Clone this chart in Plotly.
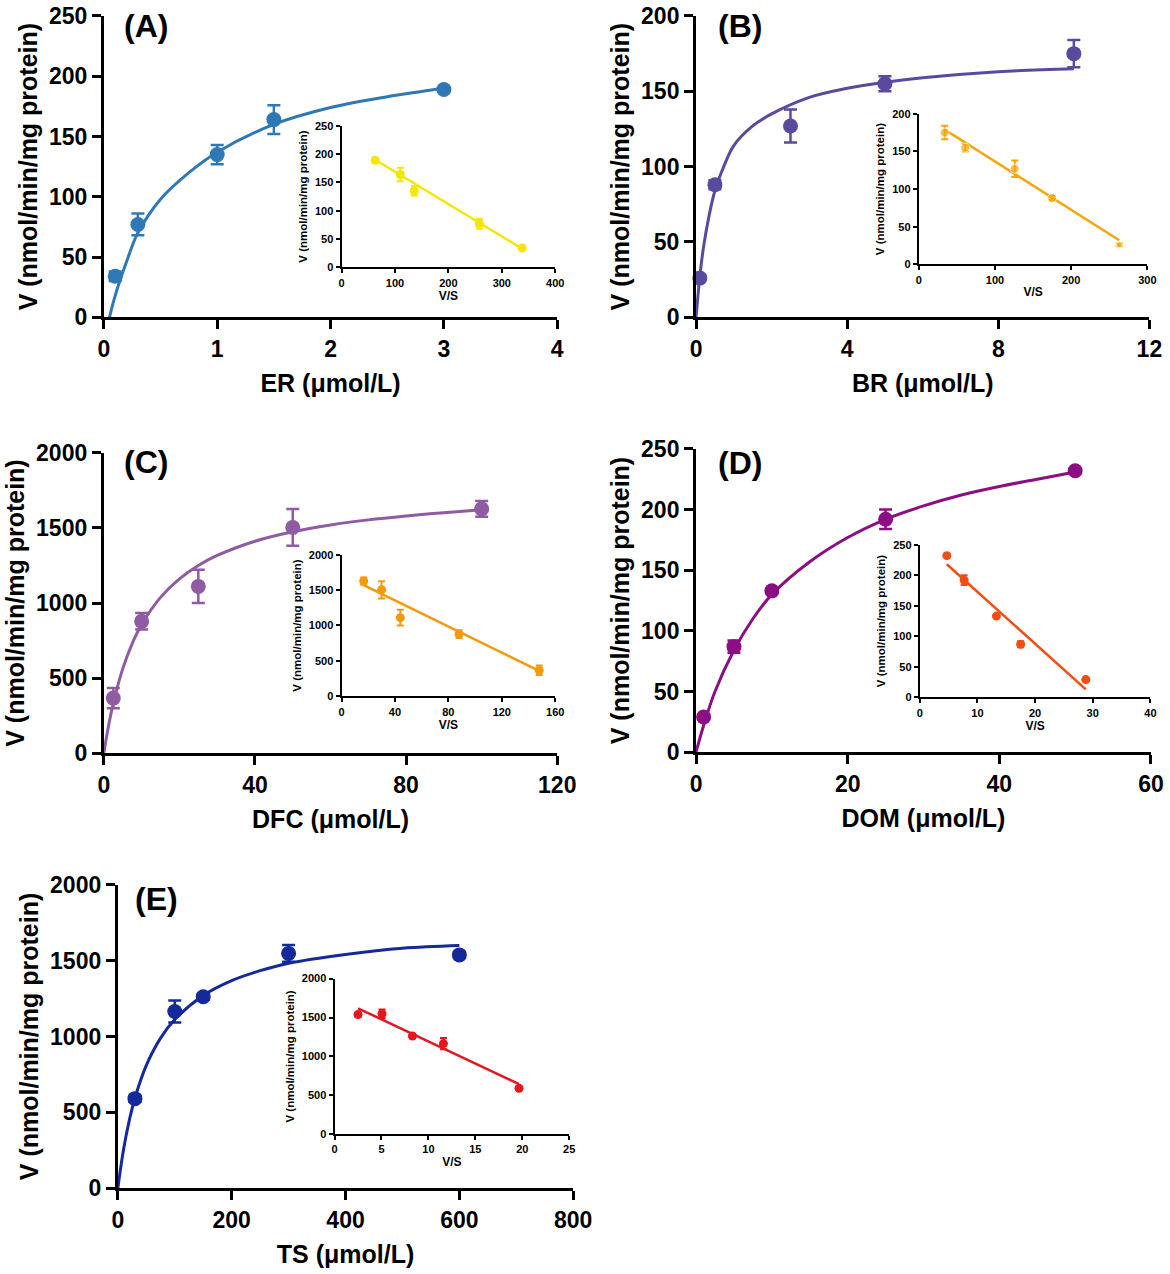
import plotly.graph_objects as go

W, H = 1170, 1274
FONT = "Arial, Liberation Sans, sans-serif"

# ---- (A) ER ----
A_S = [0.1, 0.3, 1, 1.5, 3]
A_V = [34, 77, 135, 164, 189]
A_err = [4, 9, 8, 12, 2]
A_fit_S = [0.05, 0.1, 0.2, 0.3, 0.5, 0.75, 1.0, 1.5, 2.0, 2.5, 3.0]
A_fit_V = [0, 18, 46, 70, 98, 120, 137, 160, 174, 183, 190]
A_VS = [338, 258, 136, 110, 63]
A_line_x = [63, 338]
A_line_y = [190, 33]

# ---- (B) BR ----
B_S = [0.1, 0.5, 2.5, 5, 10]
B_V = [26, 88, 127, 155, 175]
B_err = [2, 3, 11, 5, 9]
B_fit_S = [0, 0.05, 0.1, 0.2, 0.35, 0.5, 0.75, 1, 1.5, 2, 3, 4, 5, 6, 8, 10]
B_fit_V = [0, 14, 27, 47, 68, 84, 101, 114, 127, 135, 146, 152, 156, 159, 163, 165]
B_VS = [263, 175, 126, 61, 34]
B_line_x = [34, 263]
B_line_y = [179, 32]

# ---- (C) DFC ----
C_S = [2.5, 10, 25, 50, 100]
C_V = [367, 878, 1111, 1504, 1627]
C_err = [67, 55, 110, 122, 52]
C_fit_S = [0, 1, 2.5, 5, 7.5, 10, 15, 20, 25, 30, 40, 50, 60, 70, 80, 90, 100]
C_fit_V = [0, 150, 333, 563, 730, 857, 1038, 1161, 1250, 1317, 1412, 1475, 1520, 1554, 1580, 1602, 1621]
C_VS = [148, 88, 44, 30, 16.6]
C_line_x = [16.6, 148]
C_line_y = [1569, 360]

# ---- (D) DOM ----
D_S = [1, 5, 10, 25, 50]
D_V = [29, 87, 133, 192, 232]
D_err = [2, 5, 2, 8, 2]
D_fit_S = [0, 1, 2.5, 5, 7.5, 10, 15, 20, 25, 30, 35, 40, 45, 50]
D_fit_V = [0, 22, 50, 84, 110, 130, 157, 177, 192, 203, 212, 219, 225, 231]
D_VS = [28.8, 17.5, 13.3, 7.7, 4.7]
D_line_x = [4.7, 28.8]
D_line_y = [218, 13]

# ---- (E) TS ----
E_S = [30, 100, 150, 300, 600]
E_V = [590, 1165, 1262, 1548, 1538]
E_err = [20, 73, 20, 55, 20]
E_fit_S = [0, 10, 20, 30, 50, 75, 100, 150, 200, 250, 300, 400, 500, 600]
E_fit_V = [0, 254, 445, 593, 809, 989, 1112, 1271, 1369, 1434, 1483, 1541, 1582, 1600]
E_VS = [19.65, 11.6, 8.3, 5.06, 2.5]
E_line_x = [2.5, 19.65]
E_line_y = [1619, 644]

YTITLE = "V (nmol/min/mg protein)"

# the photographed page comes out slightly shrunk; these undo it
SX, OX = 0.98, 5
SY, OY = 0.982, 12

fig = go.Figure()


def ref(kind, i):
    return kind if i == 1 else f"{kind}{i}"


def px_x(a):
    return min(1.0, max(0.0, (a - OX) / SX / W))


def px_y(a):
    return min(1.0, max(0.0, 1 - (a - OY) / SY / H))


def dom_x(a, b):
    return [px_x(a), px_x(b)]


def dom_y(top, bottom):
    return [px_y(bottom), px_y(top)]


def add_axes(i, xd, yd, xr, xdt, yr, ydt, xtitle, ytitle, inset=False):
    lw = 2 if inset else 3
    tl = 4 if inset else 9
    tf = dict(family=FONT, size=11 if inset else 23, color="black", weight="bold")
    titf = dict(family=FONT, size=11.5 if inset else 25, color="black", weight="bold")
    xtf = dict(family=FONT, size=12 if inset else 25, color="black", weight="bold")
    common = dict(showline=True, linecolor="black", linewidth=lw, ticks="outside",
                  ticklen=tl, tickwidth=lw, tickcolor="black", tickfont=tf,
                  showgrid=False, zeroline=False, fixedrange=True)
    fig.layout[ref("xaxis", i)] = dict(
        domain=xd, range=xr, dtick=xdt, tick0=0, anchor=ref("y", i),
        title=dict(text=xtitle, font=xtf, standoff=3 if inset else 14), **common)
    fig.layout[ref("yaxis", i)] = dict(
        domain=yd, range=yr, dtick=ydt, tick0=0, anchor=ref("x", i),
        title=dict(text=ytitle, font=titf, standoff=5 if inset else 5), **common)


def add_main(i, S, V, err, fitS, fitV, color):
    fig.add_trace(go.Scatter(x=fitS, y=fitV, mode="lines", showlegend=False,
                             line=dict(color=color, width=3, shape="spline", smoothing=1),
                             xaxis=ref("x", i), yaxis=ref("y", i)))
    fig.add_trace(go.Scatter(x=S, y=V, mode="markers", showlegend=False, cliponaxis=False,
                             marker=dict(color=color, size=15),
                             error_y=dict(type="data", array=err, color=color,
                                          thickness=2.5, width=6.5),
                             xaxis=ref("x", i), yaxis=ref("y", i)))


def add_inset(i, VS, V, err, lx, ly, color, sizes=9):
    fig.add_trace(go.Scatter(x=lx, y=ly, mode="lines", showlegend=False,
                             line=dict(color=color, width=2.5),
                             xaxis=ref("x", i), yaxis=ref("y", i)))
    fig.add_trace(go.Scatter(x=VS, y=V, mode="markers", showlegend=False, cliponaxis=False,
                             marker=dict(color=color, size=sizes),
                             error_y=dict(type="data", array=err, color=color,
                                          thickness=2, width=3.5),
                             xaxis=ref("x", i), yaxis=ref("y", i)))


# (A)
add_axes(1, dom_x(103, 557), dom_y(15, 317), [0, 4], 1, [0, 250], 50, "ER (μmol/L)", YTITLE)
add_main(1, A_S, A_V, A_err, A_fit_S, A_fit_V, "#2f78b6")
add_axes(2, dom_x(341, 555), dom_y(125, 267), [0, 400], 100, [0, 250], 50, "V/S", YTITLE, inset=True)
add_inset(2, A_VS, A_V, A_err, A_line_x, A_line_y, "#f5e600")

# (B)
add_axes(3, dom_x(696, 1150), dom_y(15, 317), [0, 12], 4, [0, 200], 50, "BR (μmol/L)", YTITLE)
add_main(3, B_S, B_V, B_err, B_fit_S, B_fit_V, "#5a4a9e")
add_axes(4, dom_x(919, 1148), dom_y(113, 264), [0, 300], 100, [0, 200], 50, "V/S", YTITLE, inset=True)
add_inset(4, B_VS, B_V, B_err, B_line_x, B_line_y, "#f6a60a", sizes=[6, 9, 9, 9, 9])

# (C)
add_axes(5, dom_x(103, 557), dom_y(453, 754), [0, 120], 40, [0, 2000], 500, "DFC (μmol/L)", YTITLE)
add_main(5, C_S, C_V, C_err, C_fit_S, C_fit_V, "#8f5ba3")
add_axes(6, dom_x(341, 555), dom_y(555, 697), [0, 160], 40, [0, 2000], 500, "V/S", YTITLE, inset=True)
add_inset(6, C_VS, C_V, C_err, C_line_x, C_line_y, "#f39a0c")

# (D)
add_axes(7, dom_x(696, 1152), dom_y(449, 753), [0, 60], 20, [0, 250], 50, "DOM (μmol/L)", YTITLE)
add_main(7, D_S, D_V, D_err, D_fit_S, D_fit_V, "#8b0e82")
add_axes(8, dom_x(920, 1151), dom_y(545, 698), [0, 40], 10, [0, 250], 50, "V/S", YTITLE, inset=True)
add_inset(8, D_VS, D_V, D_err, D_line_x, D_line_y, "#f04e12")

# (E)
add_axes(9, dom_x(117, 573), dom_y(886, 1190), [0, 800], 200, [0, 2000], 500, "TS (μmol/L)", YTITLE)
add_main(9, E_S, E_V, E_err, E_fit_S, E_fit_V, "#14299a")
add_axes(10, dom_x(334, 569), dom_y(980, 1136), [0, 25], 5, [0, 2000], 500, "V/S", YTITLE, inset=True)
add_inset(10, E_VS, E_V, E_err, E_line_x, E_line_y, "#e5161d")

# panel letters
for label, px, py in [("(A)", 145, 25), ("(B)", 740, 25), ("(C)", 145, 462),
                      ("(D)", 740, 463), ("(E)", 156, 900)]:
    fig.add_annotation(text=label, x=px_x(px), y=px_y(py), xref="paper", yref="paper",
                       showarrow=False, xanchor="center", yanchor="middle",
                       font=dict(family=FONT, size=32, color="black", weight="bold"))

fig.update_layout(width=W, height=H, margin=dict(l=0, r=0, t=0, b=0),
                  paper_bgcolor="white", plot_bgcolor="rgba(0,0,0,0)",
                  showlegend=False)

# drop the default 8px body margin so the figure sits at the page origin
fig.write_html("out.html", config={"displayModeBar": False},
               post_script="document.body.style.margin = '0';")
